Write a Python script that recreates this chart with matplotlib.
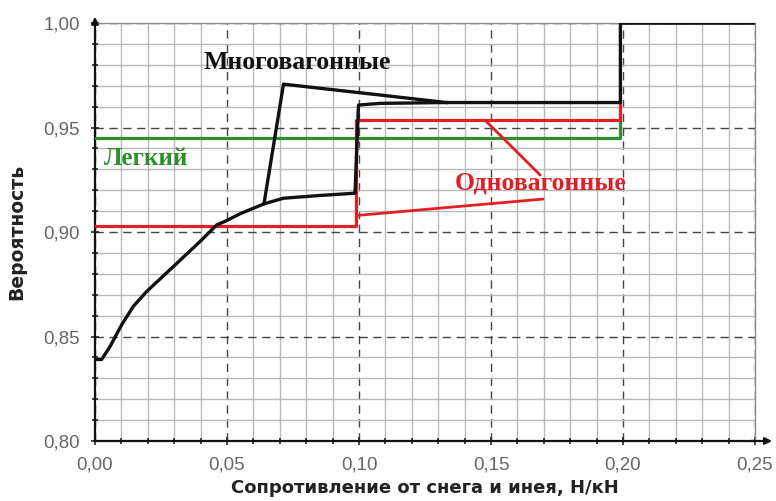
import matplotlib
matplotlib.use("Agg")
import matplotlib.pyplot as plt
from matplotlib.ticker import MultipleLocator, FuncFormatter

# Многовагонные (black): upper branch with the spike, lower branch below it
multi_upper_x = [0.0, 0.0025, 0.0057, 0.0101, 0.0145, 0.0196, 0.0297, 0.0398, 0.0461,
                 0.0499, 0.0550, 0.0600, 0.0640, 0.0714, 0.108, 0.133, 0.199, 0.199, 0.25]
multi_upper_y = [0.839, 0.839, 0.8452, 0.8556, 0.8644, 0.8716, 0.8835, 0.8955, 0.9034,
                 0.9055, 0.9088, 0.9114, 0.9135, 0.9708, 0.9656, 0.962, 0.962, 1.0, 1.0]
multi_lower_x = [0.0640, 0.0714, 0.0850, 0.0985, 0.0998, 0.108, 0.133]
multi_lower_y = [0.9135, 0.9162, 0.9175, 0.9186, 0.9608, 0.9616, 0.962]

# Одновагонные (red)
single_x = [0.0, 0.099, 0.099, 0.199, 0.199]
single_y = [0.903, 0.903, 0.9536, 0.9536, 0.962]

# Легкий (green)
light_x = [0.0, 0.199, 0.199]
light_y = [0.9449, 0.9449, 0.9536]

black = "#111111"
red = "#e02025"
green = "#2f8f2f"

fig = plt.figure(figsize=(7.76, 5.01), dpi=100)
ax = fig.add_axes([0.1224, 0.1198, 0.8506, 0.834])

ax.set_xlim(0, 0.25)
ax.set_ylim(0.80, 1.00)
ax.xaxis.set_major_locator(MultipleLocator(0.05))
ax.xaxis.set_minor_locator(MultipleLocator(0.01))
ax.yaxis.set_major_locator(MultipleLocator(0.05))
ax.yaxis.set_minor_locator(MultipleLocator(0.01))
fmt = FuncFormatter(lambda v, _: f"{v:.2f}".replace(".", ","))
ax.xaxis.set_major_formatter(fmt)
ax.yaxis.set_major_formatter(fmt)

ax.grid(which="minor", color="#b8b8b8", linewidth=1.0, linestyle="-")
ax.grid(which="major", color="#444444", linewidth=1.0, linestyle=(0, (6, 4)))
ax.set_axisbelow(True)

ax.tick_params(which="both", direction="inout", color="#222222", width=1.2)
ax.tick_params(which="major", length=6, labelsize=13.5, labelcolor="#666666", pad=8)
ax.tick_params(which="minor", length=5)
for lab in ax.get_xticklabels() + ax.get_yticklabels():
    lab.set_family("Liberation Sans")

for s in ("top", "right"):
    ax.spines[s].set_color("#8a8a8a")
    ax.spines[s].set_linewidth(1.0)
for s in ("left", "bottom"):
    ax.spines[s].set_color("#111111")
    ax.spines[s].set_linewidth(1.6)

# axis arrows
ax.annotate("", xy=(1.03, 0), xytext=(0.99, 0), xycoords="axes fraction",
            arrowprops=dict(arrowstyle="-|>", color="#111111", lw=1.6, mutation_scale=10))
ax.annotate("", xy=(0, 1.022), xytext=(0, 0.99), xycoords="axes fraction",
            arrowprops=dict(arrowstyle="-|>", color="#111111", lw=1.6, mutation_scale=10))

ax.plot(light_x, light_y, color=green, lw=2.3, zorder=3)
ax.plot(single_x, single_y, color=red, lw=2.3, zorder=4)
ax.plot(multi_lower_x, multi_lower_y, color=black, lw=2.4, zorder=5)
ax.plot(multi_upper_x, multi_upper_y, color=black, lw=2.4, zorder=5)

serif = "Liberation Serif"
ax.text(0.0765, 0.981, "Многовагонные", family=serif, weight="bold", fontsize=18.5,
        color=black, ha="center", va="center", zorder=6)
ax.text(0.0195, 0.9354, "Легкий", family=serif, weight="bold", fontsize=18,
        color=green, ha="center", va="center", zorder=6)
ax.text(0.1686, 0.9234, "Одновагонные", family=serif, weight="bold", fontsize=18.5,
        color=red, ha="center", va="center", zorder=6)

# leader lines for Одновагонные
ax.annotate("", xy=(0.1477, 0.9536), xytext=(0.1686, 0.9273),
            arrowprops=dict(arrowstyle="-", color=red, lw=2.0, shrinkA=0, shrinkB=0), zorder=6)
ax.annotate("", xy=(0.0997, 0.908), xytext=(0.1697, 0.9158),
            arrowprops=dict(arrowstyle="-", color=red, lw=2.0, shrinkA=0, shrinkB=0), zorder=6)

ax.set_xlabel("Сопротивление от снега и инея, Н/кН", family="DejaVu Sans",
              weight="bold", fontsize=13, color="#222222", labelpad=4)
ax.set_ylabel("Вероятность", family="DejaVu Sans", weight="bold",
              fontsize=13.5, color="#222222", labelpad=12)

fig.savefig("out.png", dpi=100)
